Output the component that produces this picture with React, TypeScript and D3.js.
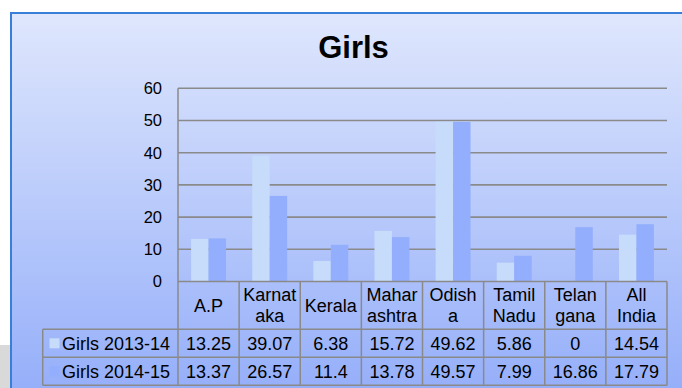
import React from "react";
import * as d3 from "d3";

// Enrolment figures for girls by state, two school years
const categories = ["A.P", "Karnataka", "Kerala", "Maharashtra", "Odisha", "Tamil Nadu", "Telangana", "All India"];
const headerLines = [
  ["A.P"],
  ["Karnat", "aka"],
  ["Kerala"],
  ["Mahar", "ashtra"],
  ["Odish", "a"],
  ["Tamil", "Nadu"],
  ["Telan", "gana"],
  ["All", "India"],
];
const seriesNames = ["Girls 2013-14", "Girls 2014-15"];
const girls2013 = [13.25, 39.07, 6.38, 15.72, 49.62, 5.86, 0, 14.54];
const girls2014 = [13.37, 26.57, 11.4, 13.78, 49.57, 7.99, 16.86, 17.79];
const yTicks = [0, 10, 20, 30, 40, 50, 60];

const seriesColors = ["#c6dcfa", "#92aefc"];
const FONT = "'Liberation Sans', Arial, Helvetica, sans-serif";

export default function App() {
  const W = 682;
  const H = 388;
  const plotLeft = 178;
  const plotRight = 667;
  const yTop = 88.3;
  const yBase = 281.5;
  const tableLeft = 42.7;
  const row1Top = 329.3;
  const row2Top = 357.3;
  const tableBottom = 385.3;

  const x = d3.scaleBand<string>().domain(categories).range([plotLeft, plotRight]).paddingInner(0).paddingOuter(0);
  const step = x.bandwidth();
  const barW = step / 3.5;
  const xs = d3
    .scaleBand<string>()
    .domain(seriesNames)
    .range([barW * 0.75, step - barW * 0.75]);
  const y = d3.scaleLinear().domain([0, 60]).range([yBase, yTop]);

  const values = [girls2013, girls2014];
  const gridColor = "#8a8a8a";
  const rowTops = [row1Top, row2Top];
  const rowH = row2Top - row1Top;

  return (
    <svg
      width={W}
      height={H}
      style={{ position: "absolute", left: 0, top: 0, display: "block" }}
      fontFamily={FONT}
    >
      <defs>
        <linearGradient id="bg" x1="0" y1="0" x2="0" y2="1">
          <stop offset="0" stopColor="#dfe7fd" />
          <stop offset="1" stopColor="#93adf9" />
        </linearGradient>
      </defs>
      <rect x={0} y={0} width={W} height={H} fill="#ffffff" />
      <rect x={0} y={345} width={11} height={H - 345} fill="#d9d9d9" />
      <rect x={11} y={13} width={W} height={H} fill="url(#bg)" />
      <line x1={11} y1={12} x2={11} y2={H} stroke="#3a7fd7" strokeWidth={2} />
      <line x1={10} y1={13} x2={W} y2={13} stroke="#3a7fd7" strokeWidth={2} />

      <text x={353.5} y={57.5} textAnchor="middle" fontSize={31} fontWeight="bold" fill="#000">
        Girls
      </text>

      {/* gridlines */}
      {yTicks
        .filter((t) => t > 0)
        .map((t) => (
          <line key={t} x1={plotLeft} x2={plotRight} y1={y(t)} y2={y(t)} stroke={gridColor} strokeWidth={1.6} />
        ))}
      {yTicks.map((t) => (
        <text key={t} x={162} y={y(t)} dy="0.36em" textAnchor="end" fontSize={16.5} fill="#000">
          {t}
        </text>
      ))}

      {/* bars */}
      {categories.map((c, i) => (
        <g key={c} transform={`translate(${x(c)},0)`}>
          {seriesNames.map((s, j) => {
            const v = values[j][i];
            if (v <= 0) return null;
            return (
              <rect
                key={s}
                x={xs(s)}
                y={y(v)}
                width={xs.bandwidth()}
                height={yBase - y(v)}
                fill={seriesColors[j]}
              />
            );
          })}
        </g>
      ))}

      {/* data table */}
      <g stroke={gridColor} strokeWidth={1.5} fill="none">
        <line x1={plotLeft} x2={plotRight} y1={yBase} y2={yBase} />
        <line x1={tableLeft} x2={plotRight} y1={row1Top} y2={row1Top} />
        <line x1={tableLeft} x2={plotRight} y1={row2Top} y2={row2Top} />
        <line x1={tableLeft} x2={plotRight} y1={tableBottom} y2={tableBottom} />
        <line x1={tableLeft} x2={tableLeft} y1={row1Top} y2={tableBottom} />
        <line x1={plotLeft} x2={plotLeft} y1={yTop} y2={tableBottom} />
        {categories.map((c) => (
          <line key={c} x1={(x(c) as number) + step} x2={(x(c) as number) + step} y1={yBase} y2={tableBottom} />
        ))}
      </g>

      {categories.map((c, i) => {
        const cx = (x(c) as number) + step / 2;
        const lines = headerLines[i];
        const mid = (yBase + row1Top) / 2;
        const lh = 21;
        return (
          <g key={c}>
            {lines.map((ln, k) => (
              <text
                key={k}
                x={cx}
                y={mid + (k - (lines.length - 1) / 2) * lh}
                dy="0.36em"
                textAnchor="middle"
                fontSize={18}
                fill="#000"
              >
                {ln}
              </text>
            ))}
            {values.map((vals, j) => (
              <text
                key={j}
                x={cx}
                y={rowTops[j] + rowH / 2}
                dy="0.36em"
                textAnchor="middle"
                fontSize={18}
                fill="#000"
              >
                {vals[i]}
              </text>
            ))}
          </g>
        );
      })}

      {seriesNames.map((s, j) => (
        <g key={s}>
          <rect x={49.5} y={rowTops[j] + rowH / 2 - 5} width={10} height={10} fill={seriesColors[j]} />
          <text x={62} y={rowTops[j] + rowH / 2} dy="0.36em" fontSize={18} fill="#000">
            {s}
          </text>
        </g>
      ))}
    </svg>
  );
}
